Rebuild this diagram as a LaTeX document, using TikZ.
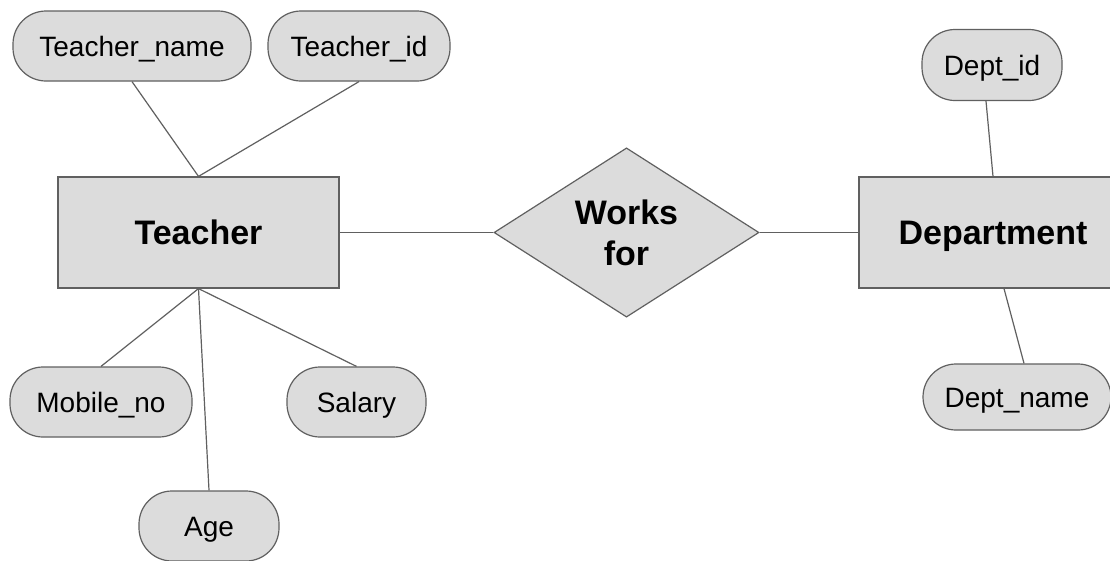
\documentclass[tikz,border=0pt]{standalone}
\usepackage{fontspec}
\setmainfont{Liberation Sans}
\usetikzlibrary{shapes.geometric}
\definecolor{boxfill}{HTML}{DCDCDC}
\definecolor{boxline}{HTML}{606060}
\tikzset{
  entity/.style={draw=boxline, fill=boxfill, line width=1.2pt, rectangle,
    minimum height=111pt, inner sep=0pt, text height=24.5pt, text depth=0pt,
    font=\fontsize{34}{40}\selectfont\bfseries},
  attr/.style={draw=boxline, fill=boxfill, line width=1.2pt, rectangle,
    rounded corners=33pt, minimum height=70pt, inner sep=0pt,
    text height=20pt, text depth=0pt,
    font=\fontsize{28}{32}\selectfont},
  relation/.style={draw=boxline, fill=boxfill, line width=1.2pt, diamond,
    minimum width=265pt, minimum height=169pt, inner sep=0pt, align=center,
    font=\fontsize{34}{40}\selectfont\bfseries},
  link/.style={draw=boxline, line width=1.2pt}
}
\begin{document}
\begin{tikzpicture}[x=1pt, y=-1pt]
  \fill[white] (0,0) rectangle (1110,560);
  \clip (0,0) rectangle (1110,560);

  % entities and relationship
  \node[entity, minimum width=281pt] (teacher) at (198.5,232.5) {Teacher};
  \node[entity, minimum width=268pt] (dept) at (993,232.5) {Department};
  \node[relation] (works) at (626.5,232.5) {Works\\[1pt]for};

  % attributes of Teacher
  \node[attr, minimum width=238pt] (tname) at (132,46) {Teacher\_name};
  \node[attr, minimum width=182pt] (tid) at (359,46) {Teacher\_id};
  \node[attr, minimum width=182pt] (mobile) at (101,402) {Mobile\_no};
  \node[attr, minimum width=139pt] (salary) at (356.5,402) {Salary};
  \node[attr, minimum width=140pt] (age) at (209,526) {Age};

  % attributes of Department
  \node[attr, minimum width=140pt, minimum height=71pt] (did) at (992,65) {Dept\_id};
  \node[attr, minimum width=188pt, minimum height=66pt] (dname) at (1017,397) {Dept\_name};

  % connectors
  \draw[link] (tname.south) -- (teacher.north);
  \draw[link] (tid.south) -- (teacher.north);
  \draw[link] (teacher.south) -- (mobile.north);
  \draw[link] (teacher.south) -- (salary.north);
  \draw[link] (teacher.south) -- (age.north);
  \draw[link] (teacher.east) -- (works.west);
  \draw[link] (works.east) -- (dept.west);
  \draw[link] ([xshift=-6pt]did.south) -- (dept.north);
  \draw[link] ([xshift=11pt]dept.south) -- ([xshift=7pt]dname.north);
\end{tikzpicture}
\end{document}
